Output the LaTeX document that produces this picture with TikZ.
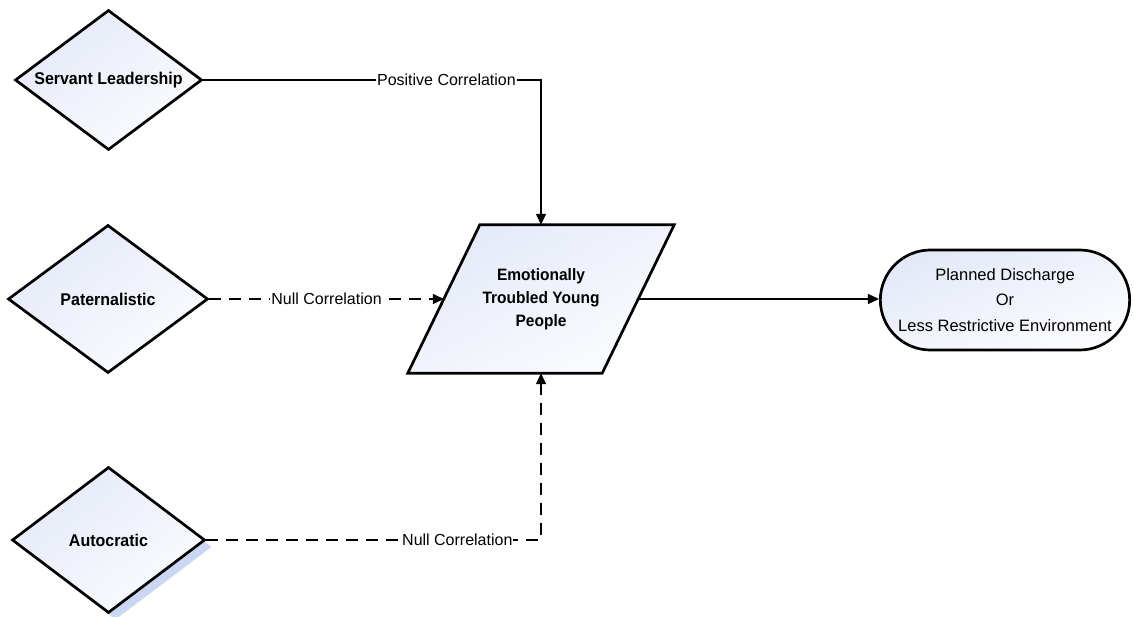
\documentclass[tikz,border=0pt]{standalone}
\usepackage{fontspec}
\setmainfont{Liberation Sans}[BoldFeatures={FakeStretch=0.94}]
\usetikzlibrary{shapes.geometric,shapes.misc,arrows.meta,calc,shadows,shadings}
\definecolor{fillblue}{RGB}{224,230,246}
\definecolor{fillmid}{RGB}{240,243,251}
\definecolor{shadowblue}{RGB}{202,215,242}
\tikzset{
  shapefill/.style={upper left=fillblue, upper right=fillmid, lower left=fillmid, lower right=white},
  dia/.style={diamond, draw=black, line width=2.7pt, shapefill, inner sep=0pt,
    font=\fontsize{17}{20}\selectfont\bfseries},
  conn/.style={line width=1.4pt, -{Triangle[length=11pt,width=10pt]}},
  dconn/.style={conn, dash pattern=on 12pt off 8pt},
  lbl/.style={fill=white, inner sep=1pt, font=\fontsize{16}{19}\selectfont},
  para/.style={draw=black, line width=2.7pt, shapefill},
}
\begin{document}
\begin{tikzpicture}[x=1pt,y=-1pt]
\useasboundingbox (0,0) rectangle (1134,617);
% diamonds
\node[dia, minimum width=187pt, minimum height=140pt] (sl) at (108.5,80) {\makebox[0pt]{Servant Leadership}};
\node[dia, minimum width=200pt, minimum height=148pt] (pa) at (108,299) {\makebox[0pt]{Paternalistic}};
\node[dia, minimum width=193pt, minimum height=146pt,
  drop shadow={shadow xshift=7pt, shadow yshift=-7pt, fill=shadowblue, opacity=1}] (au) at (108.5,540) {\makebox[0pt]{Autocratic}};
% parallelogram
\node[minimum width=194pt, minimum height=148pt, inner sep=0pt] (ety) at (541,299) {};
\path[para] ($(ety.north west)+(36,0)$) -- ($(ety.north east)+(36,0)$) -- ($(ety.south east)+(-36,0)$) -- ($(ety.south west)+(-36,0)$) -- cycle;
\node[align=center, font=\fontsize{16.5}{23}\selectfont\bfseries] (etyt) at (ety.center) {Emotionally\\Troubled Young\\People};
% terminal
\node[rounded rectangle, draw=black, line width=2.7pt, shapefill, minimum width=256pt, minimum height=100pt,
  align=center, font=\fontsize{16.5}{25.5}\selectfont] (term) at (1005,300) {Planned Discharge\\Or\\Less Restrictive Environment};
% connectors
\draw[conn] (sl.east) -| node[lbl, pos=0.36] {Positive Correlation} (ety.north);
\draw[dconn] (pa.east) -- node[lbl, pos=0.5] {Null Correlation} (ety.west);
\draw[dconn] (au.east) -| node[lbl, pos=0.375] {Null Correlation} (ety.south);
\draw[conn] (ety.east) -- (ety.east -| term.west);
\end{tikzpicture}
\end{document}
